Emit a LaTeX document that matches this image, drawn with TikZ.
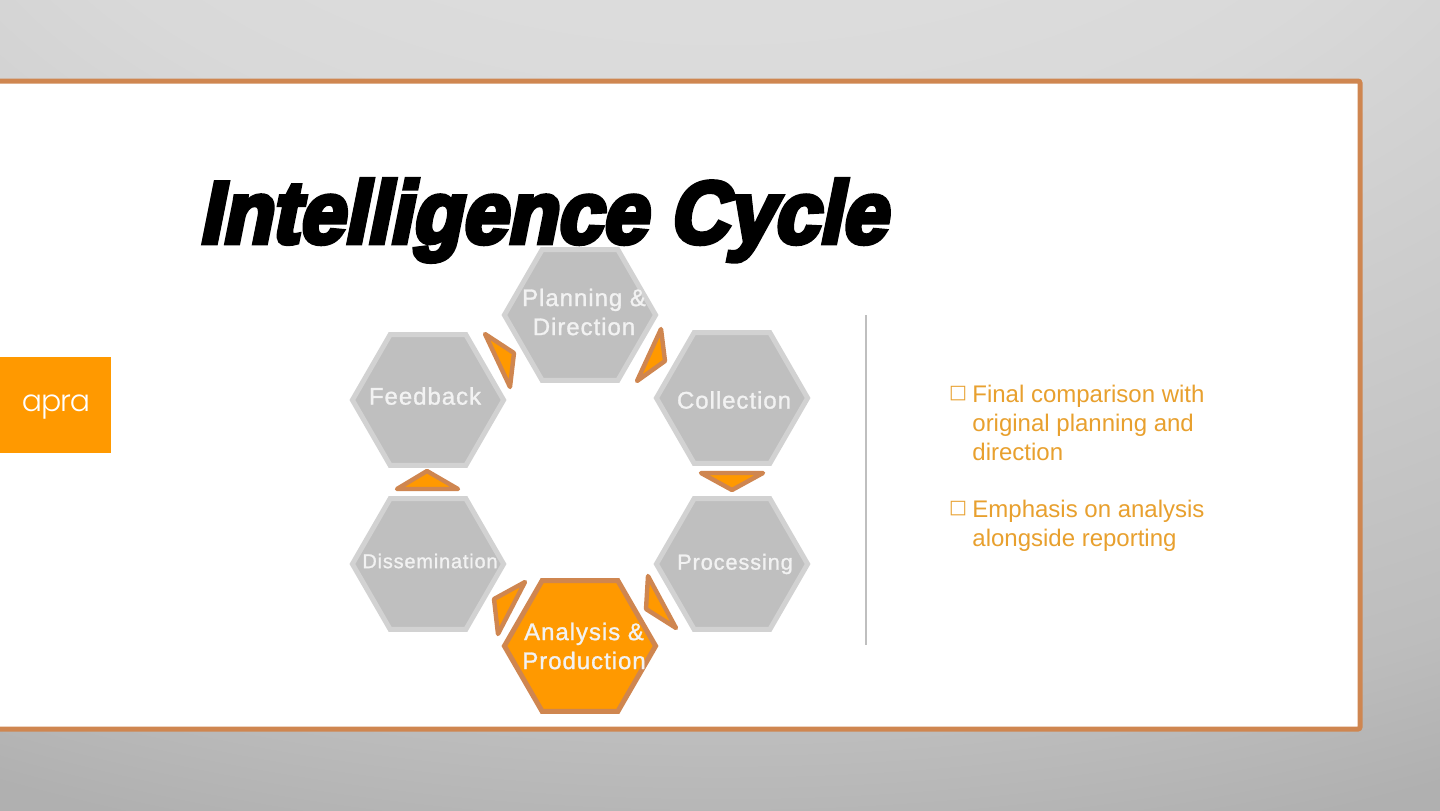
\documentclass[tikz,border=0pt]{standalone}
\usepackage{fontspec}
\setmainfont{Liberation Sans}
\newfontfamily\titlefont[FakeBold=5.5,FakeSlant=0.2,FakeStretch=0.925]{Liberation Sans Bold}
\newfontfamily\hexfont[LetterSpace=4,FakeBold=1.2]{Liberation Sans}
\newfontfamily\logofont[LetterSpace=-4]{Poppins Light}
\newfontfamily\boxfont{DejaVu Sans}
\definecolor{myorange}{HTML}{FF9900}
\definecolor{myborder}{HTML}{CF8650}
\definecolor{mygray}{HTML}{BFBFBF}
\definecolor{mylightgray}{HTML}{D2D2D2}
\definecolor{mytext}{HTML}{E8A02E}
\usetikzlibrary{shapes.geometric}
\pgfdeclareradialshading{backdrop}{\pgfpoint{0bp}{50bp}}{
  color(0bp)=(black!10); color(25bp)=(black!15); color(50bp)=(black!26); color(56bp)=(black!31); color(120bp)=(black!31)}
\tikzset{
	hexnode/.style={
			shape=regular polygon,
			regular polygon sides=6,
			draw=mylightgray,
			line width=2.5pt,
			fill=mygray,
			minimum size=75.6pt,
			inner sep=0pt,
			outer sep=0pt
		},
	activenode/.style={
			hexnode,
			draw=myborder,
			fill=myorange
		},
	hextext/.style={
			align=center,
			inner sep=0pt,
			text=white!95!black,
			font=\hexfont\fontsize{12}{14.5}\selectfont
		},
	pointer/.style={
			draw=myborder,
			fill=myorange,
			line width=2.2pt,
			line join=round
		},
	listtext/.style={
			align=left,
			anchor=north west,
			inner sep=0pt,
			text=mytext,
			font=\fontsize{12}{14.5}\selectfont
		}
}

\begin{document}
\begin{tikzpicture}[x=0.5pt,y=-0.5pt]

  \useasboundingbox (0,0) rectangle (1440,810);
  \clip (0,0) rectangle (1440,810);

  % backdrop and panel
  \shade[shading=backdrop] (0,0) rectangle (1440,810);
  \draw[draw=myborder, line width=2.5pt, fill=white, rounded corners=1pt] (-10,81) rectangle (1360,729);

  % logo
  \fill[myorange] (0,357) rectangle (111,453);
  \node[text=white, inner sep=0pt, anchor=base] (logo) at (56,411) {\logofont\fontsize{15}{15}\selectfont apra};

  % title
  \node[anchor=base west, inner sep=0pt] (title) at (198,243) {\titlefont\fontsize{44}{44}\selectfont Intelligence Cycle};

  % hexagons
  \node[hexnode] (h1) at (580,315) {};
  \node[hexnode] (h2) at (732,398) {};
  \node[hexnode] (h3) at (732,564) {};
  \node[activenode] (h4) at (580,646) {};
  \node[hexnode] (h5) at (428,564) {};
  \node[hexnode] (h6) at (428,400) {};

  \node[hextext] (t1) at (584,312) {Planning \&\\Direction};
  \node[hextext] (t2) at (734,400) {Collection};
  \node[hextext, font=\hexfont\fontsize{10.9}{13}\selectfont] (t3) at (735,564) {Processing};
  \node[hextext] (t4) at (584,646) {Analysis \&\\Production};
  \node[hextext, font=\hexfont\fontsize{10}{12}\selectfont] (t5) at (430,561) {Dissemination};
  \node[hextext] (t6) at (425,396) {Feedback};

  % pointers
  \draw[pointer] (485,334) -- (514,353) -- (510,387) -- cycle;
  \draw[pointer] (661,329) -- (665,361) -- (637,381) -- cycle;
  \draw[pointer] (701,473) -- (763,473) -- (732,490) -- cycle;
  \draw[pointer] (648,576) -- (676,628) -- (646,609) -- cycle;
  \draw[pointer] (525,582) -- (498,634) -- (494,599) -- cycle;
  \draw[pointer] (427,471) -- (458,489) -- (397,489) -- cycle;

  % divider
  \draw[draw=mygray, line width=1pt] (866,315) -- (866,645);

  % list
  \node[text=mytext, inner sep=0pt] (b1) at (958,394) {\boxfont\fontsize{9.5}{10}\selectfont □};
  \node[listtext] (l1) at (972,385) {Final comparison with\\original planning and\\direction};
  \node[text=mytext, inner sep=0pt] (b2) at (958,509) {\boxfont\fontsize{9.5}{10}\selectfont □};
  \node[listtext] (l2) at (972,500) {Emphasis on analysis\\alongside reporting};

\end{tikzpicture}
\end{document}
